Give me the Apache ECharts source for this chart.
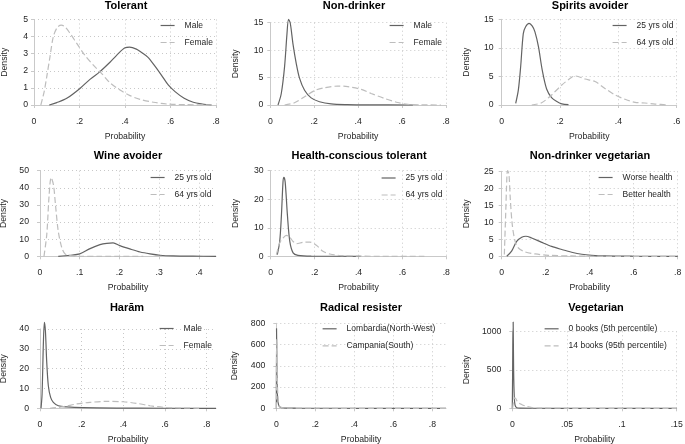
<!DOCTYPE html>
<html><head><meta charset="utf-8">
<script src="https://cdn.jsdelivr.net/npm/echarts@6/dist/echarts.min.js"></script>
<style>html,body{margin:0;padding:0;background:#fff}#c{width:685px;height:444px}</style>
</head><body><div id="c"></div>
<script>
// ---------- panel labels / axis settings ----------
const titles = ['Tolerant','Non-drinker','Spirits avoider','Wine avoider','Health-conscious tolerant','Non-drinker vegetarian','Harām','Radical resister','Vegetarian'];
const legendA = ['Male','Male','25 yrs old','25 yrs old','25 yrs old','Worse health','Male','Lombardia(North-West)','0 books (5th percentile)'];
const legendB = ['Female','Female','64 yrs old','64 yrs old','64 yrs old','Better health','Female','Campania(South)','14 books (95th percentile)'];
const xMax  = [0.8, 0.8, 0.6, 0.443, 0.8, 0.8, 0.845, 0.87, 0.15];
const xStep = [0.2, 0.2, 0.2, 0.1, 0.2, 0.2, 0.2, 0.2, 0.05];
const yMax  = [5, 15, 15, 50, 30, 25, 40, 800, 1000];
const yStep = [1, 5, 5, 10, 10, 5, 10, 200, 500];

// ---------- series values ----------
// 1 Tolerant
const tolMaleX = [0.067,0.1,0.144,0.202,0.246,0.29,0.334,0.363,0.4,0.42,0.45,0.47,0.5,0.53,0.56,0.59,0.62,0.66,0.7,0.74,0.78];
const tolMaleY = [0,0.14,0.39,0.97,1.5,1.95,2.5,2.9,3.35,3.38,3.27,3.1,2.8,2.3,1.75,1.17,0.78,0.39,0.16,0.06,0];
const tolFemX = [0.03,0.045,0.056,0.07,0.085,0.103,0.12,0.136,0.158,0.188,0.224,0.261,0.297,0.334,0.378,0.422,0.466,0.525,0.583,0.67,0.79];
const tolFemY = [0,0.8,1.65,2.8,4.0,4.55,4.67,4.57,4.2,3.6,2.9,2.33,1.85,1.3,0.88,0.55,0.33,0.16,0.06,0.02,0];
// 2 Non-drinker
const ndMaleX = [0.035,0.05,0.065,0.076,0.083,0.091,0.103,0.118,0.133,0.156,0.186,0.224,0.277,0.35,0.45,0.65];
const ndMaleY = [0,2.1,7,13,15.6,14.9,11.2,7.6,4.9,2.7,1.3,0.6,0.2,0.07,0.02,0];
const ndFemX = [0.065,0.11,0.156,0.2,0.247,0.307,0.353,0.414,0.459,0.52,0.58,0.626,0.686,0.777];
const ndFemY = [0,0.4,1.5,2.6,3.15,3.45,3.35,2.85,2.1,1.2,0.45,0.12,0.03,0];
// 3 Spirits avoider
const spYoungX = [0.048,0.057,0.065,0.074,0.082,0.094,0.105,0.114,0.126,0.139,0.154,0.171,0.189,0.206,0.229];
const spYoungY = [0.3,2.6,6.7,12.5,13.7,14.3,13.8,12.8,10.2,6.1,2.8,1.3,0.6,0.2,0.06];
const spOldX = [0.103,0.137,0.171,0.206,0.24,0.251,0.286,0.32,0.354,0.389,0.423,0.457,0.491,0.526,0.571];
const spOldY = [0,0.4,1.75,3.5,4.85,5.08,4.55,4.1,2.9,1.75,1.0,0.47,0.35,0.17,0];
// 4 Wine avoider
const wiYoungX = [0.046,0.075,0.1,0.126,0.151,0.168,0.184,0.201,0.226,0.252,0.277,0.302,0.335,0.386,0.443];
const wiYoungY = [0,0.6,1.4,4.5,6.8,7.6,7.8,6.2,4.3,2.5,1.4,0.6,0.2,0.05,0];
const wiOldX = [0.01,0.017,0.023,0.028,0.034,0.039,0.046,0.055,0.063,0.075,0.092,0.15,0.26];
const wiOldY = [0,12.6,36,46,41.6,30,14.6,4.9,1.4,0.4,0.05,0,0];
// 5 Health-conscious tolerant
const hcYoungX = [0.03,0.041,0.049,0.056,0.06,0.066,0.076,0.087,0.102,0.124,0.185,0.41];
const hcYoungY = [0.6,5.2,14.6,26,27.7,26,14.6,5.2,1.2,0.35,0.05,0];
const hcOldX = [0.026,0.041,0.056,0.071,0.087,0.102,0.117,0.147,0.178,0.208,0.238,0.269,0.322,0.413,0.55,0.70];
const hcOldY = [0.6,4.7,6.4,7.35,6.65,5.2,4.4,4.9,5.0,3.85,1.75,0.8,0.25,0.05,0,0];
// 6 Non-drinker vegetarian
const nvWorseX = [0.023,0.045,0.068,0.091,0.11,0.136,0.182,0.227,0.273,0.318,0.364,0.409,0.47,0.6,0.8];
const nvWorseY = [0,1.5,4.4,5.6,5.9,5.4,4.1,2.9,2.0,1.2,0.6,0.3,0.1,0.02,0];
const nvBetterX = [0.012,0.018,0.024,0.027,0.033,0.039,0.048,0.061,0.076,0.106,0.152,0.212,0.318,0.47,0.8];
const nvBetterY = [0.5,12.3,24,25.2,24,17,9.3,4.4,2.45,1.3,0.7,0.3,0.1,0,0];
// 7 Haram
const haMaleX = [0.005,0.01,0.016,0.021,0.026,0.032,0.04,0.051,0.064,0.088,0.128,0.208,0.368,0.6,0.845];
const haMaleY = [0,7.2,32,43.4,39,24,11.4,5.5,3,1.3,0.7,0.3,0.1,0.02,0];
const haFemX = [0.048,0.112,0.176,0.24,0.32,0.4,0.464,0.528,0.592,0.656,0.768];
const haFemY = [0,0.8,2.2,3.0,3.5,3.3,2.5,1.3,0.5,0.15,0];
// 8 Radical resister
const rrNorthX = [0.0003,0.0012,0.002,0.004,0.007,0.012,0.02,0.04,0.1,0.3,0.6,0.87];
const rrNorthY = [0,750,600,250,90,30,10,3,1,0.3,0.1,0];
const rrSouthX = [0.0005,0.0015,0.0025,0.005,0.009,0.015,0.03,0.06,0.2,0.5,0.87];
const rrSouthY = [0,500,650,300,90,25,6,2,0.5,0.1,0];
// 9 Vegetarian
const veLowX = [0,0.0004,0.0008,0.0012,0.0018,0.0025,0.004,0.008,0.02,0.06,0.15];
const veLowY = [0,600,1120,500,150,40,8,2,0.5,0,0];
const veHighX = [0.0003,0.001,0.002,0.003,0.005,0.0085,0.013,0.018,0.025,0.05,0.15];
const veHighY = [0,80,135,130,80,50,25,9,2,0.3,0];

const seriesA = [[tolMaleX,tolMaleY],[ndMaleX,ndMaleY],[spYoungX,spYoungY],[wiYoungX,wiYoungY],[hcYoungX,hcYoungY],[nvWorseX,nvWorseY],[haMaleX,haMaleY],[rrNorthX,rrNorthY],[veLowX,veLowY]];
const seriesB = [[tolFemX,tolFemY],[ndFemX,ndFemY],[spOldX,spOldY],[wiOldX,wiOldY],[hcOldX,hcOldY],[nvBetterX,nvBetterY],[haFemX,haFemY],[rrSouthX,rrSouthY],[veHighX,veHighY]];

// ---------- layout (pixels) ----------
const gridL = [34, 270.3, 501.7, 40, 270.7, 501.7, 40, 276.3, 512.3];
const gridR = [216, 446, 676.7, 216, 446.3, 677.7, 216, 446, 676.7];
const gridT = [19.5, 22.7, 19.3, 170.7, 170.7, 171.3, 329, 323.3, 331.3];
const gridB = [105, 105, 105, 256.3, 256.3, 256.3, 408.3, 408.3, 408.3];
const yOff  = [2, 3, 4, 7, 3, 4, 7, 7, 7];
const yNameGap = [23, 27.5, 27, 25, 28, 27, 24.7, 30, 34.3];
const titleX = [126, 354, 590, 128, 359, 590, 127, 361, 596];
const titleTop = [0, 0, 0, 150.5, 150.5, 150.5, 302, 302, 302];
const legX = [160, 389, 612, 150, 381, 598, 159, 322, 544];
const legY = [25, 25, 25, 177, 177.5, 177, 328, 328.3, 328.3];

const FONT = 'Liberation Sans, Arial, sans-serif';
const SOLID = '#636363', DASH = '#bdbdbd', TXT = '#262626', AX = '#c9c9c9', GRID = '#c8c8c8';

function fmtX(v, step){
  const k = v / step;
  if (Math.abs(k - Math.round(k)) > 1e-6) return '';
  if (Math.abs(v) < 1e-12) return '0';
  return String(+v.toFixed(3)).replace(/^0\./, '.');
}

const option = {animation:false, backgroundColor:'#fff', title:[], legend:[], grid:[], xAxis:[], yAxis:[], series:[]};
for (let i = 0; i < 9; i++) {
  option.title.push({text: titles[i], left: titleX[i], top: titleTop[i], textAlign:'center', padding:0,
    textStyle:{fontFamily:FONT, fontSize:11, fontWeight:'bold', color:'#000'}});
  option.grid.push({left: gridL[i], top: gridT[i], width: gridR[i]-gridL[i], height: gridB[i]-gridT[i], containLabel:false, outerBoundsMode:'none'});
  const xOnTick = Math.abs(xMax[i]/xStep[i] - Math.round(xMax[i]/xStep[i])) < 1e-6;
  option.xAxis.push({type:'value', gridIndex:i, min:0, max:xMax[i], interval:xStep[i], offset:7,
    name:'Probability', nameLocation:'middle', nameGap:20,
    nameTextStyle:{fontFamily:FONT, fontSize:8.7, color:TXT},
    axisLine:{show:true, lineStyle:{color:AX, width:1}},
    axisTick:{show:true, length:3, lineStyle:{color:AX}},
    axisLabel:{fontFamily:FONT, fontSize:8.7, color:TXT, margin:5, formatter:(v)=>fmtX(v, xStep[i]), showMaxLabel: xOnTick},
    splitLine:{show:true, showMinLine:false, showMaxLine: xOnTick, lineStyle:{color:GRID, type:[1,3], width:1}}});
  option.yAxis.push({type:'value', gridIndex:i, min:0, max:yMax[i], interval:yStep[i], offset:yOff[i],
    name:'Density', nameLocation:'middle', nameGap:yNameGap[i], nameRotate:90,
    nameTextStyle:{fontFamily:FONT, fontSize:8.7, color:TXT},
    axisLine:{show:true, lineStyle:{color:AX, width:1}},
    axisTick:{show:true, length:3, lineStyle:{color:AX}},
    axisLabel:{fontFamily:FONT, fontSize:8.7, color:TXT, margin:4, formatter:(v)=>String(v)},
    splitLine:{show:true, showMinLine:false, lineStyle:{color:GRID, type:[1,3], width:1}}});
  option.legend.push({data:[legendA[i], legendB[i]], orient:'vertical', left:legX[i], top:legY[i]-4, padding:0,
    itemWidth:14, itemHeight:8, itemGap:8,
    itemStyle:{opacity:0},
    lineStyle:{width:1.2},
    textStyle:{fontFamily:FONT, fontSize:8.5, color:TXT, padding:[0,0,0,5]}});
  const a = seriesA[i], b = seriesB[i];
  option.series.push({type:'line', name:legendA[i], xAxisIndex:i, yAxisIndex:i, symbol:'none', smooth:0.3, clip:false,
    data:a[0].map((x,k)=>[x,a[1][k]]), lineStyle:{color:SOLID, width:1.2, type:'solid'}, itemStyle:{color:SOLID}});
  option.series.push({type:'line', name:legendB[i], xAxisIndex:i, yAxisIndex:i, symbol:'none', smooth:0.3, clip:false,
    data:b[0].map((x,k)=>[x,b[1][k]]), lineStyle:{color:DASH, width:1.2, type:[6,3]}, itemStyle:{color:DASH}});
}
const chart = echarts.init(document.getElementById('c'), null, {renderer:'canvas'});
chart.setOption(option);
</script></body></html>
